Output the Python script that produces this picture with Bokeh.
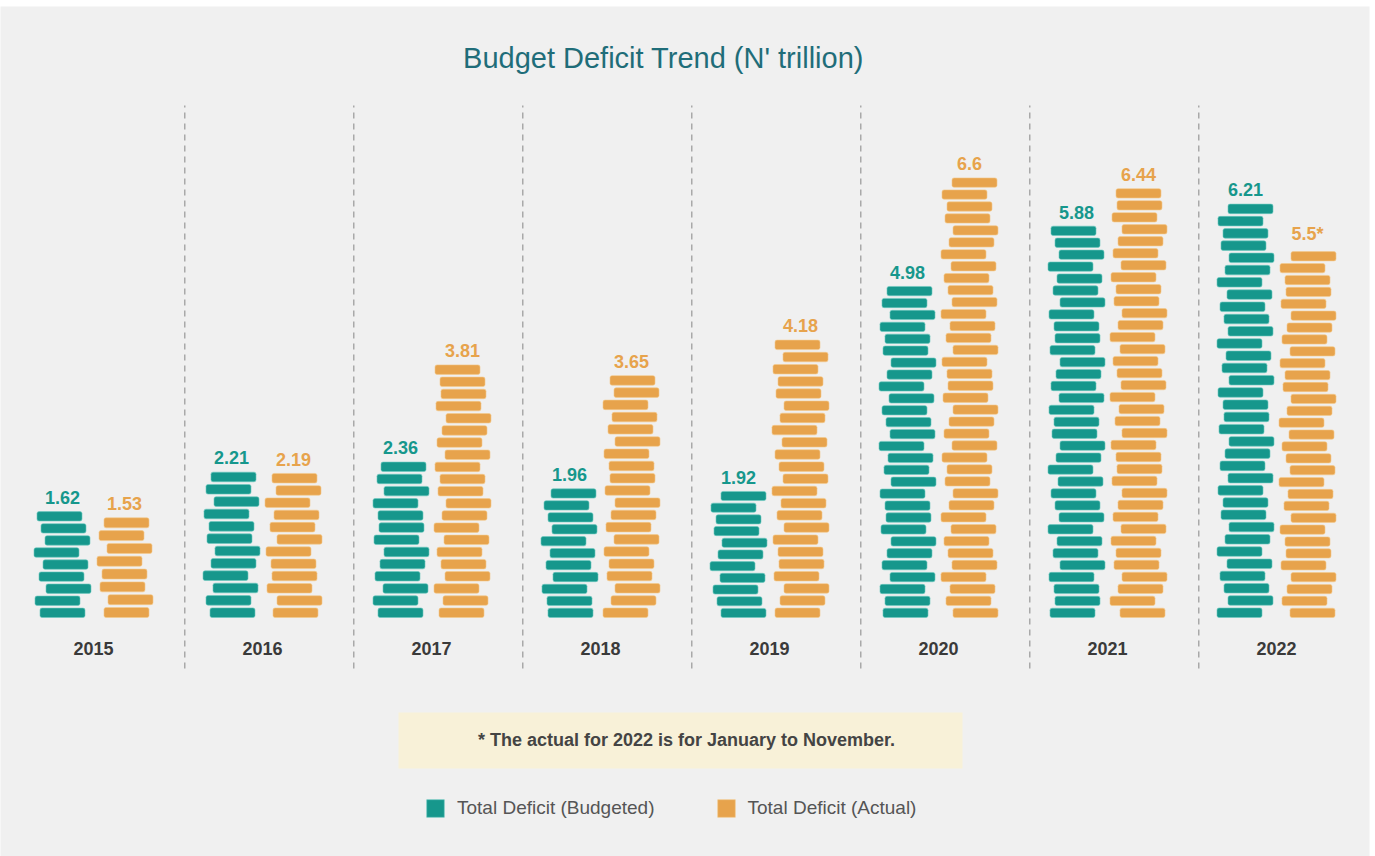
from bokeh.plotting import figure
from bokeh.models import (ColumnDataSource, Range1d, Label, BoxAnnotation, Legend,
                          LegendItem)
from bokeh.core.properties import value
from bokeh.embed import file_html
from bokeh.resources import INLINE

# ---------------- data ----------------
years = ["2015", "2016", "2017", "2018", "2019", "2020", "2021", "2022"]
budgeted = [1.62, 2.21, 2.36, 1.96, 1.92, 4.98, 5.88, 6.21]
actual = [1.53, 2.19, 3.81, 3.65, 4.18, 6.60, 6.44, 5.50]
budgeted_labels = ["1.62", "2.21", "2.36", "1.96", "1.92", "4.98", "5.88", "6.21"]
actual_labels = ["1.53", "2.19", "3.81", "3.65", "4.18", "6.6", "6.44", "5.5*"]
series_names = ["Total Deficit (Budgeted)", "Total Deficit (Actual)"]
title_text = "Budget Deficit Trend (N' trillion)"
note_text = "* The actual for 2022 is for January to November."

# ---------------- style ----------------
TEAL = "#16978c"
TEAL_EDGE = "#6cc9c0"
ORANGE = "#e7a34c"
ORANGE_EDGE = "#f3c98c"
BG = "#f0f0f0"
FONT = "Liberation Sans"

W, H = 1375, 856
BORDER_TOP, BORDER_RIGHT = 6, 6
X0_PX, GROUP_PX = 93.0, 169.0      # pixel of first group centre, spacing
BASE_PX, UNIT_PX = 617.0, 67.0     # baseline pixel, pixels per trillion

# pixel -> data helpers (layout only)
def dx(px):
    return px / GROUP_PX

def dy(px):
    return px / UNIT_PX

def xpos(px):
    return (px - X0_PX) / GROUP_PX

def ypos(py):
    return (BASE_PX - py) / UNIT_PX

SLAB_UNIT = 0.18           # trillion per slab (approx)
SLAB_FILL = 0.78           # share of pitch that is slab
SLAB_W = dx(45)
SERIES_OFF = dx(31)
JITTER_PX = [0, -5, 6, -1, 3, -6, 5, 1, -3, 4, -6, 2, 6, -2, 0, -5, 5, -3, 2, 6, -4, 1]

def slabs(values, side, phase):
    left, right, bottom, top = [], [], [], []
    for i, v in enumerate(values):
        n = max(1, int(round(v / SLAB_UNIT)))
        pitch = v / n
        for j in range(n):
            off = dx(JITTER_PX[(j + i * 7 + phase) % len(JITTER_PX)])
            c = i + side * SERIES_OFF + off
            left.append(c - SLAB_W / 2)
            right.append(c + SLAB_W / 2)
            bottom.append(j * pitch)
            top.append(j * pitch + SLAB_FILL * pitch)
    return ColumnDataSource(dict(left=left, right=right, bottom=bottom, top=top))

p = figure(width=W, height=H, output_backend="svg", toolbar_location=None,
           x_range=Range1d(xpos(0), xpos(W - BORDER_RIGHT)),
           y_range=Range1d(ypos(H), ypos(BORDER_TOP)),
           min_border_left=0, min_border_bottom=0,
           min_border_top=BORDER_TOP, min_border_right=BORDER_RIGHT,
           background_fill_color=BG, border_fill_color="white",
           outline_line_color=None)
p.xaxis.visible = False
p.yaxis.visible = False
p.xgrid.visible = False
p.ygrid.visible = False

# separators
sep_src = ColumnDataSource(dict(x=[i + 0.54 for i in range(len(years) - 1)]))
p.segment(x0="x", x1="x", y0=ypos(668), y1=ypos(105), source=sep_src,
          line_color="#a9a9a9", line_width=1.5, line_dash="6 5")

# slabs
src_b = slabs(budgeted, -1, 0)
src_a = slabs(actual, +1, 11)
r_b = p.quad(left="left", right="right", bottom="bottom", top="top", source=src_b,
             fill_color=TEAL, line_color=TEAL_EDGE, line_alpha=0.6, line_width=1,
             border_radius=2)
r_a = p.quad(left="left", right="right", bottom="bottom", top="top", source=src_a,
             fill_color=ORANGE, line_color=ORANGE_EDGE, line_alpha=0.6, line_width=1,
             border_radius=2)

# value labels
xs = list(range(len(years)))
lab_b = ColumnDataSource(dict(x=[i - SERIES_OFF for i in xs],
                              y=[v + dy(5) for v in budgeted], t=budgeted_labels))
lab_a = ColumnDataSource(dict(x=[i + SERIES_OFF for i in xs],
                              y=[v + dy(5) for v in actual], t=actual_labels))
for src, col in ((lab_b, TEAL), (lab_a, ORANGE)):
    p.text(x="x", y="y", text="t", source=src, text_align="center",
           text_baseline="bottom", text_font=value(FONT), text_font_style="bold",
           text_font_size="18px", text_color=col)

# year labels
yr_src = ColumnDataSource(dict(x=xs, y=[ypos(648)] * len(xs), t=years))
p.text(x="x", y="y", text="t", source=yr_src, text_align="center",
       text_baseline="middle", text_font=value(FONT), text_font_style="bold",
       text_font_size="18px", text_color="#3a3a3a")

# title
p.add_layout(Label(x=xpos(663), y=ypos(57), text=title_text, text_align="center",
                   text_baseline="middle", text_font=FONT, text_font_size="29px",
                   text_color="#1f6d79"))

# note box
p.add_layout(BoxAnnotation(left=xpos(398), right=xpos(962), top=ypos(712),
                           bottom=ypos(768), fill_color="#f8f1d8", fill_alpha=1,
                           line_color=None))
p.add_layout(Label(x=xpos(686), y=ypos(739), text=note_text, text_align="center",
                   text_baseline="middle", text_font=FONT, text_font_style="bold",
                   text_font_size="18px", text_color="#444444"))

# legend
legend = Legend(items=[LegendItem(label=series_names[0], renderers=[r_b]),
                       LegendItem(label=series_names[1], renderers=[r_a])],
                orientation="horizontal", location=(424, H - 819),
                glyph_width=22, glyph_height=22, label_standoff=11, spacing=60,
                padding=0, margin=0, border_line_color=None,
                background_fill_alpha=0, label_text_font=FONT,
                label_text_font_size="19px", label_text_color="#555555",
                label_height=22)
p.add_layout(legend, "center")

open("out.html", "w").write(file_html(p, INLINE))
